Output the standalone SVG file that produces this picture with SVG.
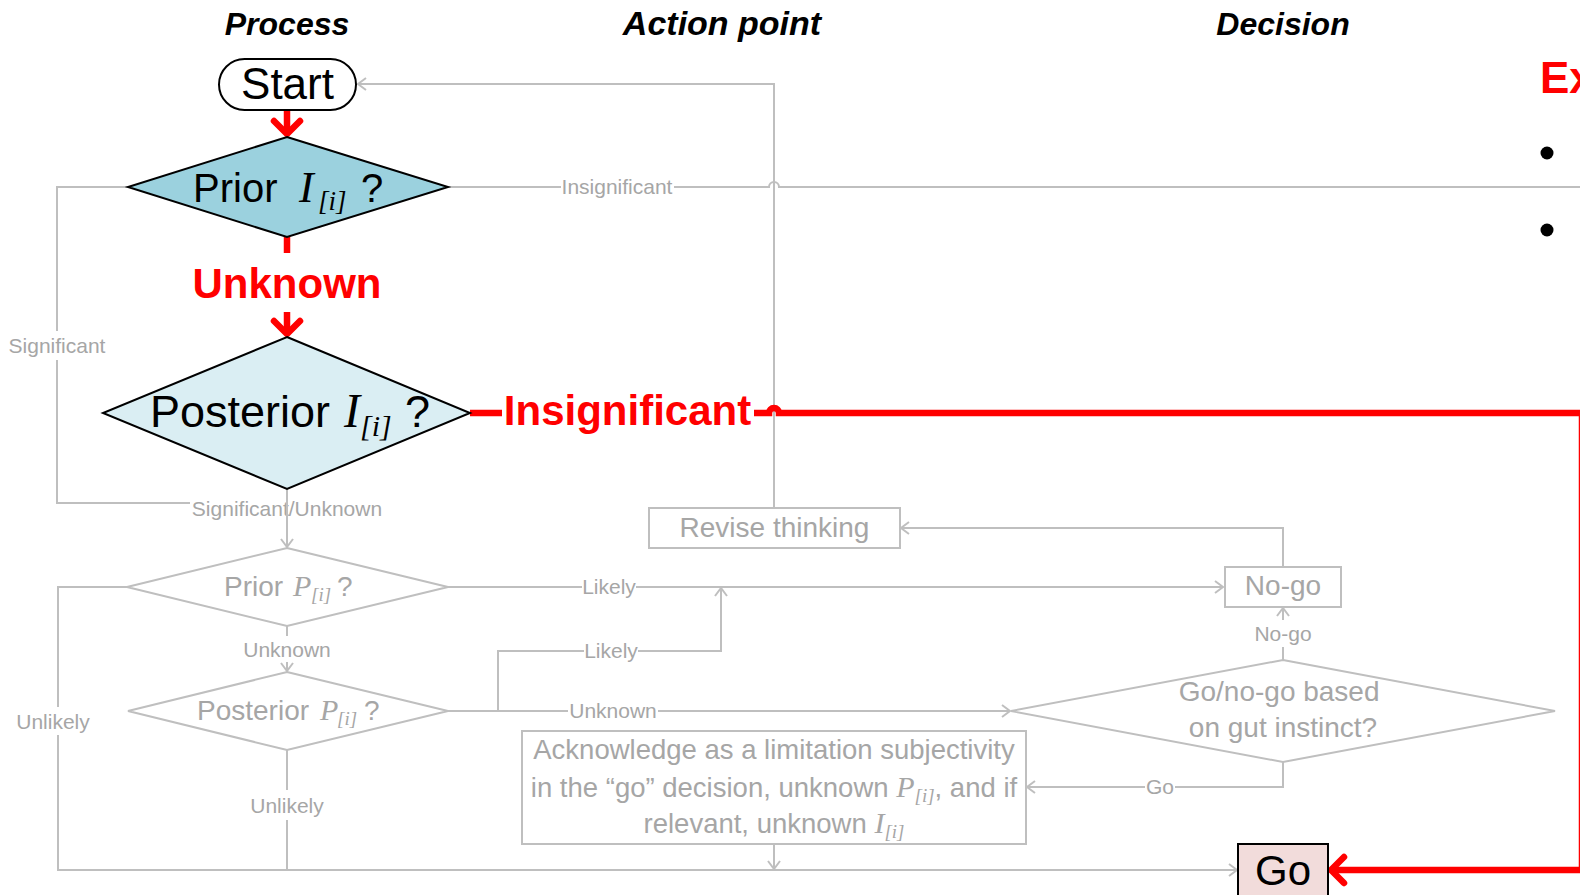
<svg xmlns="http://www.w3.org/2000/svg" width="1580" height="895" viewBox="0 0 1580 895">
  <defs>
    <style>
      text { font-family: "Liberation Sans", Arial, sans-serif; }
      .hdr { font-size: 32px; font-weight: bold; font-style: italic; fill: #000; text-anchor: middle; }
      .math { font-family: "Liberation Serif", "Times New Roman", serif; font-style: italic; }
      .blk { fill: #000; }
      .gry { fill: #a6a6a6; }
      .lbl { font-size: 21px; fill: #a6a6a6; text-anchor: middle; }
      .rlbl { font-size: 42px; font-weight: bold; fill: #ff0000; text-anchor: middle; }
      .bg { fill: #ffffff; stroke: none; }
      .cg { fill: none; stroke: #bfbfbf; stroke-width: 2; }
      .cr { fill: none; stroke: #ff0000; stroke-width: 6.5; }
      .dk { stroke: #000; stroke-width: 2; }
      .lt { fill: #ffffff; stroke: #bfbfbf; stroke-width: 2; }
    </style>
    <marker id="ag" viewBox="0 0 10 14" refX="9" refY="7" markerWidth="10" markerHeight="14" markerUnits="userSpaceOnUse" orient="auto">
      <path d="M1,1 L9,7 L1,13" fill="none" stroke="#bfbfbf" stroke-width="2"/>
    </marker>
    <marker id="ar" viewBox="0 0 24 34" refX="18" refY="17" markerWidth="24" markerHeight="34" markerUnits="userSpaceOnUse" orient="auto">
      <path d="M5,4 L18,17 L5,30" fill="none" stroke="#ff0000" stroke-width="6.5" stroke-linecap="round" stroke-linejoin="round"/>
    </marker>
  </defs>

  <rect width="1580" height="895" fill="#ffffff"/>

  <!-- column headings -->
  <g id="headings">
    <text class="hdr" x="287" y="35">Process</text>
    <text class="hdr" x="722" y="35" style="font-size:34px">Action point</text>
    <text class="hdr" x="1283" y="35">Decision</text>
  </g>

  <!-- side panel (cut off at the right edge) -->
  <g id="side-panel">
    <text x="1540" y="93" style="font-size:44px;font-weight:bold;fill:#ff0000">Ex</text>
    <circle cx="1547" cy="153" r="6.5" fill="#000"/>
    <circle cx="1547" cy="230" r="6.5" fill="#000"/>
  </g>

  <!-- connectors -->
  <g id="connectors">
    <!-- grey paths -->
    <path id="c-revise-start" class="cg" d="M774,508 V84 H358" marker-end="url(#ag)"/>
    <path id="c-priorI-insig" class="cg" d="M448,187 H769 A5,5 0 0 1 779,187 H1580"/>
    <rect class="bg" x="561" y="176" width="113" height="22"/>
    <text class="lbl" x="617" y="194">Insignificant</text>

    <path id="c-priorI-sig" class="cg" d="M128,187 H57 V503 H287"/>
    <rect class="bg" x="8" y="331" width="98" height="29"/>
    <text class="lbl" x="57" y="353">Significant</text>

    <rect class="bg" x="190" y="495" width="195" height="26"/>
    <text class="lbl" x="287" y="516">Significant/Unknown</text>
    <path id="c-postI-priorP" class="cg" d="M287,489 V547" marker-end="url(#ag)"/>

    <path id="c-priorP-unlikely" class="cg" d="M127,587 H58 V870 H1237" marker-end="url(#ag)"/>
    <rect class="bg" x="14" y="707" width="78" height="28"/>
    <text class="lbl" x="53" y="729">Unlikely</text>

    <path id="c-priorP-postP" class="cg" d="M287,626 V671" marker-end="url(#ag)"/>
    <rect class="bg" x="242" y="636" width="92" height="26"/>
    <text class="lbl" x="287" y="657">Unknown</text>

    <path id="c-postP-unlikely" class="cg" d="M287,750 V870"/>
    <rect class="bg" x="248" y="790" width="78" height="30"/>
    <text class="lbl" x="287" y="813">Unlikely</text>

    <path id="c-priorP-likely" class="cg" d="M448,587 H1223" marker-end="url(#ag)"/>
    <rect class="bg" x="582" y="577" width="54" height="22"/>
    <text class="lbl" x="609" y="594">Likely</text>

    <path id="c-postP-unknown" class="cg" d="M448,711 H1010" marker-end="url(#ag)"/>
    <rect class="bg" x="568" y="700" width="90" height="22"/>
    <text class="lbl" x="613" y="718">Unknown</text>

    <path id="c-postP-likely" class="cg" d="M498,711 V651 H721 V588" marker-end="url(#ag)"/>
    <rect class="bg" x="584" y="640" width="54" height="22"/>
    <text class="lbl" x="611" y="658">Likely</text>

    <path id="c-gut-nogo" class="cg" d="M1283,660 V608" marker-end="url(#ag)"/>
    <rect class="bg" x="1252" y="620" width="62" height="27"/>
    <text class="lbl" x="1283" y="641">No-go</text>

    <path id="c-nogo-revise" class="cg" d="M1283,567 V528 H901" marker-end="url(#ag)"/>

    <path id="c-gut-go" class="cg" d="M1283,762 V787 H1027" marker-end="url(#ag)"/>
    <rect class="bg" x="1145" y="777" width="30" height="20"/>
    <text class="lbl" x="1160" y="794">Go</text>

    <path id="c-ack-down" class="cg" d="M774,844 V869" marker-end="url(#ag)"/>

    <!-- highlighted (red) route -->
    <path id="r-start-priorI" class="cr" d="M287,110 V134" marker-end="url(#ar)"/>
    <path id="r-priorI-postI" class="cr" d="M287,237 V334" marker-end="url(#ar)"/>
    <rect class="bg" x="188" y="253" width="199" height="59"/>
    <text class="rlbl" x="287" y="298">Unknown</text>

    <path id="r-postI-go" class="cr" d="M470,413 H769 A5,5 0 0 1 779,413 H1582 V870 H1331" marker-end="url(#ar)"/>
    <rect class="bg" x="502" y="392" width="252" height="50"/>
    <text class="rlbl" x="627.5" y="425">Insignificant</text>
  </g>

  <!-- nodes -->
  <g id="n-start">
    <rect x="219" y="59" width="137" height="51" rx="25.5" fill="#ffffff" class="dk"/>
    <text class="blk" x="287.5" y="99" text-anchor="middle" style="font-size:44px">Start</text>
  </g>

  <g id="n-prior-i">
    <polygon points="287,137 448,187 287,237 128,187" fill="#9bd1de" class="dk"/>
    <text class="blk" style="font-size:40px">
      <tspan x="193" y="202">Prior</tspan>
      <tspan class="math" x="299" y="202" style="font-size:44px">I</tspan>
      <tspan class="math" x="318" y="210" style="font-size:27px">[i]</tspan>
      <tspan x="361" y="202">?</tspan>
    </text>
  </g>

  <g id="n-posterior-i">
    <polygon points="287,337 470,413 287,489 103,413" fill="#daeef3" class="dk"/>
    <text class="blk" style="font-size:45px">
      <tspan x="150" y="427">Posterior</tspan>
      <tspan class="math" x="344" y="427" style="font-size:48px">I</tspan>
      <tspan class="math" x="360" y="436" style="font-size:30px">[i]</tspan>
      <tspan x="405" y="427">?</tspan>
    </text>
  </g>

  <g id="n-prior-p">
    <polygon points="287,548 448,587 287,626 127,587" class="lt"/>
    <text class="gry" style="font-size:28px">
      <tspan x="224" y="596">Prior</tspan>
      <tspan class="math" x="293" y="596" style="font-size:30px">P</tspan>
      <tspan class="math" x="311" y="601" style="font-size:19px">[i]</tspan>
      <tspan x="337" y="596">?</tspan>
    </text>
  </g>

  <g id="n-posterior-p">
    <polygon points="287,672 448,711 287,750 128,711" class="lt"/>
    <text class="gry" style="font-size:28px">
      <tspan x="197" y="720">Posterior</tspan>
      <tspan class="math" x="320" y="720" style="font-size:30px">P</tspan>
      <tspan class="math" x="337" y="725" style="font-size:19px">[i]</tspan>
      <tspan x="364" y="720">?</tspan>
    </text>
  </g>

  <g id="n-revise">
    <rect x="649" y="508" width="251" height="40" class="lt"/>
    <text class="gry" x="774.5" y="537" text-anchor="middle" style="font-size:28px">Revise thinking</text>
  </g>

  <g id="n-nogo">
    <rect x="1225" y="567" width="116" height="40" class="lt"/>
    <text class="gry" x="1283" y="595" text-anchor="middle" style="font-size:28px">No-go</text>
  </g>

  <g id="n-gut">
    <polygon points="1283,660 1555,711 1283,762 1011,711" class="lt"/>
    <text class="gry" text-anchor="middle" style="font-size:28px">
      <tspan x="1283" y="701">Go/no-go based</tspan>
      <tspan x="1283" y="737">on gut instinct?</tspan>
    </text>
  </g>

  <g id="n-acknowledge">
    <rect x="522" y="731" width="504" height="113" class="lt"/>
    <text class="gry" text-anchor="middle" style="font-size:27.5px">
      <tspan x="774" y="759">Acknowledge as a limitation subjectivity</tspan>
    </text>
    <text class="gry" x="774" y="797" text-anchor="middle" style="font-size:27.5px">in the “go” decision, unknown <tspan class="math" style="font-size:30px">P</tspan><tspan class="math" dy="5" style="font-size:19px">[i]</tspan><tspan dy="-5">, and if</tspan></text>
    <text class="gry" x="774" y="833" text-anchor="middle" style="font-size:27.5px">relevant, unknown <tspan class="math" style="font-size:30px">I</tspan><tspan class="math" dy="5" style="font-size:19px">[i]</tspan></text>
  </g>

  <g id="n-go">
    <rect x="1238" y="844" width="90" height="60" fill="#f2dcdb" class="dk"/>
    <text class="blk" x="1283" y="885" text-anchor="middle" style="font-size:42px">Go</text>
  </g>
</svg>
